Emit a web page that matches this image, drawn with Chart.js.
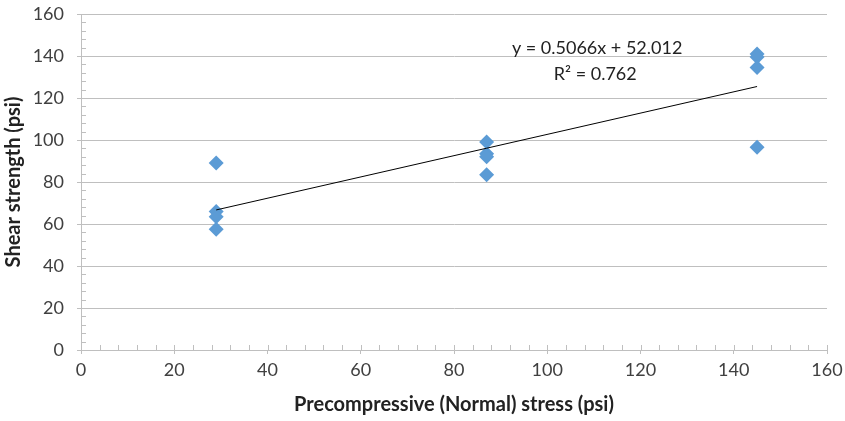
<!DOCTYPE html>
<html>
<head>
<meta charset="utf-8">
<script src="https://cdn.jsdelivr.net/npm/chart.js@4"></script>
<style>
  html, body { margin: 0; padding: 0; background: #fff; }
  #wrap { width: 845px; height: 421px; position: relative; }
</style>
</head>
<body>
<div id="wrap"><canvas id="shear-chart"></canvas></div>
<script>
// precompression levels (psi) and measured shear strength (psi)
const stressX = [29, 29, 29, 29, 87, 87, 87, 87, 145, 145, 145, 145];
const shearY = [89, 66, 63.5, 57.5, 99, 93.5, 92, 83.5, 141, 139.5, 134.5, 96.5];

// linear trendline as reported on the chart
const trendSlope = 0.5066;
const trendIntercept = 52.012;
const trendX = [29, 145];
const eqLines = ["y = 0.5066x + 52.012", "R² = 0.762"];

const FONT = "Lato, 'Open Sans', sans-serif";
const GRID = "#BFBFBF";

// short inward minor tick marks every 4 units, like the spreadsheet look
const minorTicks = {
  id: "minorTicks",
  afterDraw(chart) {
    const { ctx, scales: { x, y }, chartArea: a } = chart;
    ctx.save();
    ctx.strokeStyle = GRID;
    ctx.lineWidth = 1;
    ctx.beginPath();
    for (let v = 0; v <= 160; v += 4) {
      const px = Math.round(x.getPixelForValue(v)) + 0.5;
      ctx.moveTo(px, a.bottom);
      ctx.lineTo(px, a.bottom - 5);
      const py = Math.round(y.getPixelForValue(v)) + 0.5;
      ctx.moveTo(a.left, py);
      ctx.lineTo(a.left + 5, py);
    }
    ctx.stroke();
    ctx.restore();
  },
};

// trendline equation text
const eqLabel = {
  id: "eqLabel",
  afterDraw(chart) {
    const { ctx, scales: { x, y } } = chart;
    ctx.save();
    ctx.font = "18px " + FONT;
    ctx.fillStyle = "#222";
    ctx.textAlign = "center";
    ctx.textBaseline = "middle";
    ctx.fillText(eqLines[0], x.getPixelForValue(110.7), y.getPixelForValue(143.8));
    ctx.fillText(eqLines[1], x.getPixelForValue(110.3), y.getPixelForValue(131.4));
    ctx.restore();
  },
};

new Chart(document.getElementById("shear-chart"), {
  type: "scatter",
  data: {
    datasets: [
      {
        label: "Trend",
        type: "line",
        data: trendX.map((v) => ({ x: v, y: trendSlope * v + trendIntercept })),
        borderColor: "#000",
        borderWidth: 1,
        pointRadius: 0,
        fill: false,
        order: 1,
      },
      {
        label: "Shear strength",
        data: stressX.map((v, i) => ({ x: v, y: shearY[i] })),
        pointStyle: "rectRot",
        pointRadius: 7.5,
        pointHoverRadius: 7.5,
        backgroundColor: "#5B9BD5",
        borderColor: "#5B9BD5",
        borderWidth: 0,
        order: 2,
      },
    ],
  },
  options: {
    responsive: true,
    maintainAspectRatio: false,
    animation: false,
    layout: { padding: { top: 14, right: 18, left: 0, bottom: 0 } },
    plugins: { legend: { display: false }, tooltip: { enabled: false } },
    scales: {
      x: {
        type: "linear",
        min: 0,
        max: 160,
        ticks: { stepSize: 20, color: "#404040", font: { family: FONT, size: 18 }, padding: 5, maxRotation: 0 },
        grid: { drawOnChartArea: false, color: GRID, tickLength: 4 },
        border: { color: GRID },
        title: {
          display: true,
          text: "Precompressive (Normal) stress (psi)",
          color: "#222",
          font: { family: FONT, size: 20, weight: "bold" },
          padding: { top: 8 },
        },
        afterFit: (s) => { s.height = 71; s.paddingLeft = 0; s.paddingRight = 0; },
      },
      y: {
        min: 0,
        max: 160,
        ticks: { stepSize: 20, color: "#404040", font: { family: FONT, size: 18 }, padding: 13 },
        grid: { color: GRID, tickLength: 4 },
        border: { color: GRID },
        title: {
          display: true,
          text: "Shear strength (psi)",
          color: "#222",
          font: { family: FONT, size: 20, weight: "bold" },
          padding: { bottom: 0, top: 2 },
        },
        afterFit: (s) => { s.width = 81; s.paddingTop = 0; s.paddingBottom = 0; },
      },
    },
  },
  plugins: [minorTicks, eqLabel],
});
</script>
</body>
</html>
